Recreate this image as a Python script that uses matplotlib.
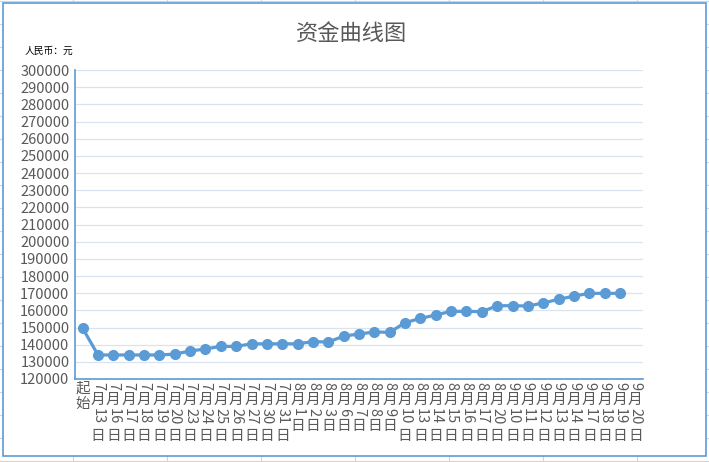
import re
import matplotlib
matplotlib.use("Agg")
import matplotlib.pyplot as plt
from matplotlib.lines import Line2D
from matplotlib.patches import Rectangle

plt.rcParams['font.family'] = ['Noto Sans CJK SC', 'DejaVu Sans']

labels = ['起始',
          '7月13日', '7月16日', '7月17日', '7月18日', '7月19日', '7月20日', '7月23日',
          '7月24日', '7月25日', '7月26日', '7月27日', '7月30日', '7月31日',
          '8月1日', '8月2日', '8月3日', '8月6日', '8月7日', '8月8日', '8月9日',
          '8月10日', '8月13日', '8月14日', '8月15日', '8月16日', '8月17日', '8月20日',
          '9月10日', '9月11日', '9月12日', '9月13日', '9月14日', '9月17日', '9月18日',
          '9月19日', '9月20日']
values = [149500, 134000, 134000, 134000, 134000, 134000, 134500, 136300,
          137500, 139000, 139000, 140500, 140500, 140500,
          140500, 141800, 141500, 145000, 146200, 147400, 147200,
          152800, 155300, 157300, 159400, 159400, 159200, 162700,
          162700, 162500, 164300, 166400, 168300, 169900, 169900,
          169900]
yticks = list(range(120000, 300001, 10000))

W, H = 709, 462
fig = plt.figure(figsize=(W / 100, H / 100), dpi=100)

# spreadsheet cell grid behind the chart frame
for x in range(73, W, 94):
    fig.add_artist(Line2D([x / W, x / W], [0, 1], color='#d4d4d4', lw=0.8, zorder=-3))
for y in range(1, H, 23):
    fig.add_artist(Line2D([0, 1], [1 - y / H, 1 - y / H], color='#d4d4d4', lw=0.8, zorder=-3))
fig.add_artist(Rectangle((3 / W, 1 - 456 / H), 703 / W, 453 / H, facecolor='white',
                         edgecolor='#5b9bd5', lw=1.2, zorder=-2))

ax = fig.add_axes([75 / W, 1 - 379 / H, (643 - 75) / W, (379 - 70) / H])
ax.patch.set_visible(False)
ax.plot(range(len(values)), values, color='#5b9bd5', lw=2.3, marker='o', ms=7)
ax.set_xlim(-0.5, len(labels) - 0.5)
ax.set_ylim(120000, 300000)
ax.set_yticks(yticks)
ax.set_yticklabels([str(v) for v in yticks], fontsize=10.5, color='#595959')
ax.set_xticks(range(len(labels)))
ax.set_xticklabels([''] * len(labels))
ax.tick_params(length=0, pad=4)
ax.grid(axis='y', color='#d9e3f1', lw=0.9)
ax.set_axisbelow(True)
for s in ['top', 'right']:
    ax.spines[s].set_visible(False)
for s in ['left', 'bottom']:
    ax.spines[s].set_color('#5b9bd5')
    ax.spines[s].set_linewidth(1.2)

# vertical (stacked) category labels, digits turned sideways
fs = 10.5
for i, lab in enumerate(labels):
    off = 2
    for part in re.findall(r'\d+|\D', lab):
        if part.isdigit():
            ax.annotate(part, xy=(i, 0), xycoords=ax.get_xaxis_transform(),
                        xytext=(0, -off), textcoords='offset points',
                        rotation=-90, ha='center', va='top', fontsize=fs,
                        color='#595959')
            off += 0.66 * fs * len(part) + 1
        else:
            ax.annotate(part, xy=(i, 0), xycoords=ax.get_xaxis_transform(),
                        xytext=(0, -off), textcoords='offset points',
                        ha='center', va='top', fontsize=fs, color='#595959')
            off += 1.05 * fs

fig.text(352 / W, 1 - 33 / H, '资金曲线图', ha='center', va='center',
         fontsize=16, color='#595959')
fig.text(25 / W, 1 - 51 / H, '人民币：元', ha='left', va='center',
         fontsize=7, color='black')

fig.savefig('out.png', dpi=100)
